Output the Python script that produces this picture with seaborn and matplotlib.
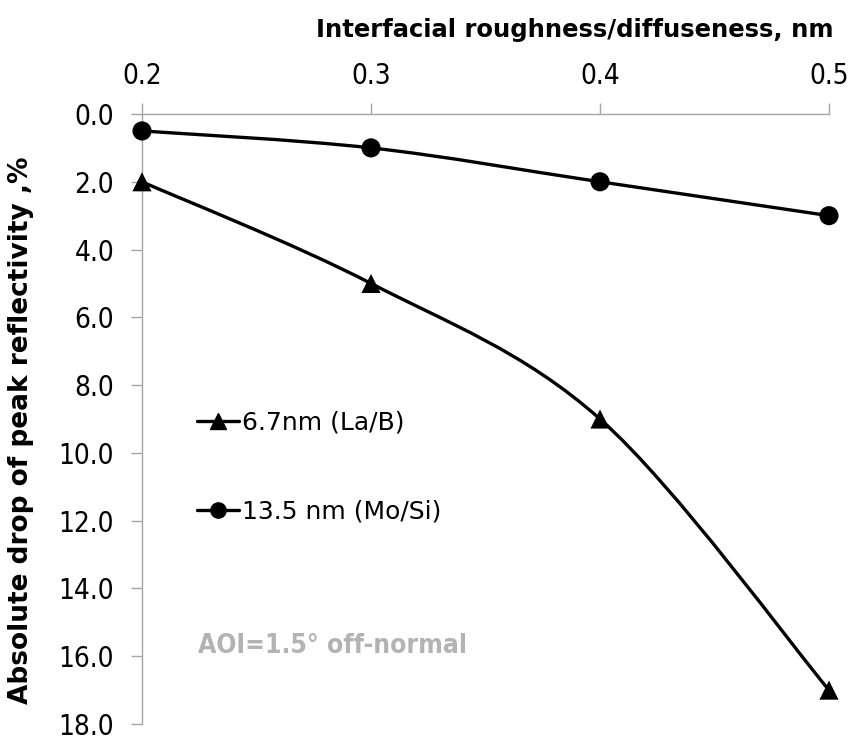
import numpy as np
import pandas as pd
import seaborn as sns
from matplotlib import pyplot as plt
from matplotlib.path import Path
from matplotlib.patches import PathPatch
from matplotlib.lines import Line2D
from matplotlib.ticker import FormatStrFormatter, MultipleLocator

roughness = [0.2, 0.3, 0.4, 0.5]
drop_lab = [2.0, 5.0, 9.0, 17.0]
drop_mosi = [0.5, 1.0, 2.0, 3.0]
label_lab = '6.7nm (La/B)'
label_mosi = '13.5 nm (Mo/Si)'


def smooth_path(xs, ys):
    # excel-like smoothed line: cubic bezier through the points
    pts = np.column_stack([xs, ys]).astype(float)
    n = len(pts)
    verts = [pts[0]]
    codes = [Path.MOVETO]
    for i in range(n - 1):
        p0 = pts[max(i - 1, 0)]
        p1 = pts[i]
        p2 = pts[i + 1]
        p3 = pts[min(i + 2, n - 1)]
        c1 = p1 + (p2 - p0) / 6.0
        c2 = p2 - (p3 - p1) / 6.0
        verts += [c1, c2, p2]
        codes += [Path.CURVE4] * 3
    return Path(verts, codes)


if __name__ == '__main__':
    sns.set_style('white')
    plt.rcParams['font.family'] = ['DejaVu Sans']
    plt.rcParams['text.color'] = 'black'
    plt.rcParams['xtick.color'] = 'black'
    plt.rcParams['ytick.color'] = 'black'

    df = pd.DataFrame({
        'roughness': roughness * 2,
        'drop': drop_lab + drop_mosi,
        'series': [label_lab] * 4 + [label_mosi] * 4,
    })

    fig = plt.figure(figsize=(8.52, 7.42), dpi=100)
    ax = fig.add_axes([142 / 852, 1 - 724 / 742, (829 - 142) / 852, (724 - 114) / 742])

    for ys in (drop_lab, drop_mosi):
        ax.add_patch(PathPatch(smooth_path(roughness, ys), facecolor='none',
                               edgecolor='black', lw=2.4, zorder=2))

    sns.scatterplot(data=df, x='roughness', y='drop', style='series',
                    markers={label_lab: '^', label_mosi: 'o'},
                    color='black', s=190, edgecolor='black', linewidth=0,
                    legend=False, ax=ax, zorder=3, clip_on=False)

    ax.set_xlim(0.2, 0.5)
    ax.set_ylim(18, 0)
    ax.xaxis.tick_top()
    ax.xaxis.set_major_locator(MultipleLocator(0.1))
    ax.yaxis.set_major_locator(MultipleLocator(2))
    ax.yaxis.set_major_formatter(FormatStrFormatter('%.1f'))
    ax.xaxis.set_major_formatter(FormatStrFormatter('%.1f'))
    ax.set_xlabel('')
    ax.set_ylabel('')

    for side in ('right', 'bottom'):
        ax.spines[side].set_visible(False)
    for side in ('left', 'top'):
        ax.spines[side].set_color('#a6a6a6')
        ax.spines[side].set_linewidth(1.0)
    ax.tick_params(axis='both', direction='out', length=8, width=1.0,
                   color='#a6a6a6', labelcolor='black', labelsize=20)
    ax.tick_params(axis='x', top=True, bottom=False, pad=9)
    ax.tick_params(axis='y', left=True, pad=12)
    for t in ax.get_xticklabels() + ax.get_yticklabels():
        t.set_fontstretch('condensed')

    fig.text(575 / 852, 1 - 30 / 742, 'Interfacial roughness/diffuseness, nm',
             ha='center', va='center', fontsize=17.5, fontweight='bold')
    fig.text(21 / 852, 1 - 430 / 742, 'Absolute drop of peak reflectivity ,%',
             ha='center', va='center', rotation=90, fontsize=19, fontweight='bold')

    ax.text(0.2245, 15.7, 'AOI=1.5° off-normal', color='#b3b3b3', fontsize=19,
            fontweight='bold', fontstretch='condensed', ha='left', va='center')

    handles = [
        Line2D([], [], color='black', lw=2.4, marker='^', markersize=11),
        Line2D([], [], color='black', lw=2.4, marker='o', markersize=11),
    ]
    ax.legend(handles, [label_lab, label_mosi], loc='upper left',
              bbox_to_anchor=(0.065, 0.530), frameon=False, fontsize=18,
              handlelength=1.7, handletextpad=0.12, labelspacing=2.6,
              borderaxespad=0)

    fig.savefig('out.png', dpi=100)
